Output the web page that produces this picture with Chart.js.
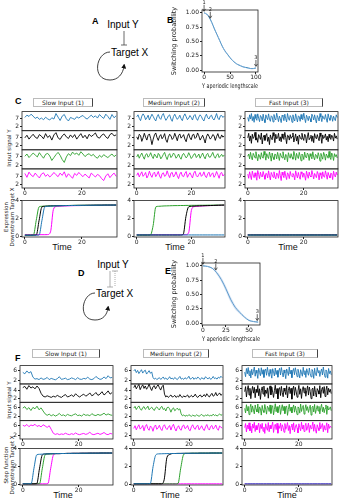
<!DOCTYPE html>
<html>
<head>
<meta charset="utf-8">
<script src="https://cdn.jsdelivr.net/npm/chart.js@4.4.1/dist/chart.umd.min.js"></script>
<style>
body{margin:0;background:#fff;}
#fig{position:relative;width:340px;height:500px;overflow:hidden;font-family:'Liberation Sans',Arial,sans-serif;color:#111;background:#fff;}
#fig canvas{position:absolute;}
.tbox{position:absolute;border:1px solid #bbb;border-right:1px solid #444;font-family:'DejaVu Sans';font-size:6px;text-align:center;line-height:7px;height:7px;color:#222;}
.time{position:absolute;font-size:9px;line-height:9px;transform:translateX(-50%);}
.ylab{position:absolute;font-family:'DejaVu Sans';font-size:5.5px;line-height:6px;transform:translate(-50%,-50%) rotate(-90deg);white-space:nowrap;text-align:center;color:#222;}
</style>
</head>
<body>
<div id="fig">
<svg style="position:absolute;left:0;top:0" width="340" height="500" font-family="Liberation Sans, Arial, sans-serif">
  <defs>
    <marker id="ah" markerWidth="5" markerHeight="5" refX="2.5" refY="2.5" orient="auto" markerUnits="userSpaceOnUse">
      <path d="M0,0 L5,2.5 L0,5 z" fill="#111"/>
    </marker>
  </defs>
  <text x="92" y="24" font-size="9" font-weight="bold">A</text>
  <text x="123" y="28" font-size="10" text-anchor="middle">Input Y</text>
  <line x1="124" y1="31" x2="124" y2="45" stroke="#444" stroke-width="0.8"/>
  <line x1="121" y1="45" x2="127" y2="45" stroke="#444" stroke-width="0.8"/>
  <text x="111" y="56" font-size="10">Target X</text>
  <path d="M110,52 C96,52 91,80 110,80 C118,80 123,74 124,66" fill="none" stroke="#111" stroke-width="0.8" marker-end="url(#ah)"/>

  <text x="167" y="23" font-size="9" font-weight="bold">B</text>
  <text x="15" y="104" font-size="9" font-weight="bold">C</text>

  <text x="78" y="276" font-size="9" font-weight="bold">D</text>
  <text x="113" y="268" font-size="10" text-anchor="middle">Input Y</text>
  <line x1="110" y1="271" x2="110" y2="287" stroke="#999" stroke-width="0.8"/>
  <line x1="107" y1="287" x2="113" y2="287" stroke="#999" stroke-width="0.8"/>
  <line x1="115" y1="271" x2="115" y2="287" stroke="#999" stroke-width="0.8" stroke-dasharray="1,1"/>
  <line x1="112" y1="271" x2="118" y2="271" stroke="#999" stroke-width="0.8"/>
  <text x="96" y="297" font-size="10">Target X</text>
  <path d="M95,293 C82,293 77,320 95,320 C103,320 107,315 108,308" fill="none" stroke="#111" stroke-width="0.8" marker-end="url(#ah)"/>

  <text x="165" y="274" font-size="9" font-weight="bold">E</text>
  <text x="15" y="361" font-size="9" font-weight="bold">F</text>
</svg>

<div class="tbox" style="left:33px;top:98px;width:58px;">Slow Input (1)</div>
<div class="tbox" style="left:143px;top:98px;width:60px;">Medium Input (2)</div>
<div class="tbox" style="left:255px;top:98px;width:66px;">Fast Input (3)</div>
<div class="tbox" style="left:32px;top:349px;width:66px;">Slow Input (1)</div>
<div class="tbox" style="left:143px;top:349px;width:64px;">Medium Input (2)</div>
<div class="tbox" style="left:252px;top:349px;width:64px;">Fast Input (3)</div>

<div class="ylab" style="left:9px;top:148px;">Input signal Y</div>
<div class="ylab" style="left:9px;top:217px;">Expression<br>Downstream Target X</div>
<div class="ylab" style="left:9px;top:400px;">Input signal Y</div>
<div class="ylab" style="left:9px;top:465px;">Step function<br>Downstream Target X</div>

<div class="time" style="left:62px;top:243px;">Time</div>
<div class="time" style="left:175px;top:243px;">Time</div>
<div class="time" style="left:288px;top:243px;">Time</div>
<div class="time" style="left:63px;top:491px;">Time</div>
<div class="time" style="left:170px;top:491px;">Time</div>
<div class="time" style="left:287px;top:491px;">Time</div>
</div>

<script>
// ---- datos ----
const T_END = 32;
const timeTicks = [0, 20];
const switchTicks = [0, 1, 2, 3, 4];
const probTicks = [0, 0.25, 0.5, 0.75, 1.0];
const tickFmt = ['0.00', '0.25', '0.50', '0.75', '1.00'];

const blue = '#1f77b4', black = '#000000', green = '#2ca02c', magenta = '#ff00ff';

// B: probabilidad de cambio
const bX = [0,5,10,15,20,25,30,35,40,45,50,55,60,65,70,75,80,85,90,95,100];
const bY = [1.0,0.98,0.92,0.83,0.72,0.62,0.52,0.42,0.34,0.28,0.22,0.17,0.13,0.1,0.08,0.06,0.05,0.04,0.03,0.03,0.04];
const bHi = [1.0,0.99,0.93,0.85,0.74,0.64,0.54,0.44,0.36,0.29,0.23,0.18,0.14,0.11,0.09,0.07,0.05,0.04,0.04,0.04,0.05];
const bLo = [0.99,0.97,0.91,0.81,0.7,0.6,0.5,0.4,0.32,0.27,0.21,0.16,0.12,0.09,0.07,0.05,0.04,0.03,0.02,0.02,0.03];
const bTicksX = [0, 50, 100];
const bNoteLabel = ['1', '2', '3'];
const bNoteX = [0, 12, 100];
const bNoteY = [1.0, 0.88, 0.04];

// E: probabilidad de cambio (escalón)
const eX = [0,5,10,15,20,25,30,35,40,45,50,55,60];
const eY = [1.0,0.99,0.96,0.88,0.76,0.6,0.42,0.28,0.19,0.11,0.05,0.03,0.02];
const eHi = [1.0,1.0,0.97,0.91,0.8,0.65,0.47,0.32,0.22,0.13,0.07,0.04,0.03];
const eLo = [0.99,0.98,0.95,0.85,0.72,0.55,0.37,0.24,0.16,0.09,0.04,0.02,0.01];
const eTicksX = [0, 25, 50];
const eNoteLabel = ['1', '2', '3'];
const eNoteX = [0, 14, 59];
const eNoteY = [1.0, 0.9, 0.02];

// C: señales de entrada
const c1Blue = [7.8,9.2,8.4,9.8,8.6,7.2,8.0,6.6,7.4,6.4,7.9,6.9,6.2,7.6,6.8,10.2,8.0,5.9,8.6,9.6,7.0,5.6,7.8,7.2,6.6,8.2,7.4,8.4,9.0,7.6,6.8,8.0,9.2,7.8,8.8,7.4,9.6,8.2,7.2,9.8,8.4,6.6,9.6,7.6,8.8];
const c1Black = [7.0,8.6,6.2,7.8,9.2,7.4,6.6,9.0,8.0,6.4,9.6,7.2,8.4,5.6,8.8,10.2,7.0,6.0,8.2,9.4,7.6,6.6,8.8,7.2,9.0,6.2,8.0,9.6,7.0,8.6,6.4,9.2,7.8,8.8,10.0,7.4,6.8,8.6,9.4,7.6,6.6,9.0,9.8,8.2,8.8];
const c1Green = [7.4,8.8,6.6,8.0,9.4,8.2,7.0,9.6,7.8,6.2,8.6,9.2,7.6,4.8,6.6,8.4,9.8,8.0,5.4,3.6,7.0,9.0,7.8,10.0,8.6,9.4,8.0,10.2,8.8,7.2,8.4,9.0,7.6,8.6,7.0,6.2,8.0,6.8,8.4,7.4,6.6,7.8,8.8,7.2,8.2];
const c1Magenta = [8.6,6.2,9.4,7.6,6.6,8.8,7.2,5.8,8.2,9.0,6.8,8.0,6.4,7.6,9.2,7.8,6.6,8.8,7.4,9.6,6.2,8.4,7.0,5.6,8.6,7.4,9.2,7.8,6.6,8.2,7.0,5.8,8.8,7.6,6.4,8.0,7.2,5.4,4.2,7.0,8.4,6.0,7.6,8.8,6.8];

const c2Blue = [8.2,9.4,7.2,5.8,8.6,10.0,8.8,6.4,7.6,9.2,6.2,8.0,9.8,8.4,6.8,5.6,8.2,9.6,7.4,6.6,9.0,10.2,7.8,6.0,7.2,8.8,9.4,6.8,5.4,8.4,9.8,8.0,6.6,7.6,9.2,7.0,5.8,8.6,10.0,8.2,6.4,7.4,9.0,7.8,6.2,8.8,9.6,7.2,6.0,8.0,9.4,8.4,6.6,5.6,8.2,9.8,7.6,6.8,8.6,9.2,7.0,6.2,8.0,10.2,7.4,6.4,8.8,9.0,7.8,8.6];
const c2Black = [7.6,6.0,9.2,8.4,4.8,7.0,9.8,7.4,5.6,8.6,9.4,6.6,2.8,6.2,8.8,10.0,7.2,5.4,8.0,9.0,6.4,7.6,9.6,5.8,4.2,7.4,9.2,8.2,6.0,7.0,9.8,7.6,5.2,8.4,9.4,6.8,7.8,9.0,6.2,4.6,8.0,9.6,7.0,5.8,8.8,9.2,6.6,7.4,10.0,8.2,5.6,7.0,8.6,6.4,3.8,7.6,9.4,8.0,6.2,7.2,9.0,8.4,5.4,7.8,9.6,7.0,6.6,8.8,7.4,8.2];
const c2Green = [7.0,8.6,6.2,8.0,9.4,7.2,5.6,8.4,9.0,6.8,7.8,9.6,7.4,6.0,8.8,7.6,6.4,9.2,8.2,5.8,7.0,8.6,9.8,7.2,5.4,8.0,9.0,6.6,7.6,9.4,8.4,6.2,7.2,8.8,6.8,5.6,8.2,9.2,7.8,6.4,7.4,9.6,8.0,6.0,7.0,8.6,9.0,6.6,7.6,8.8,6.2,7.8,9.4,7.2,5.8,8.4,9.2,7.0,6.8,8.2,9.8,7.4,6.2,8.0,9.0,6.6,7.6,8.6,7.2,8.2];
const c2Magenta = [7.4,9.0,6.4,8.2,9.6,6.8,7.8,9.2,5.8,7.2,10.0,7.6,6.2,8.6,9.4,6.6,8.0,9.8,7.0,5.6,8.4,9.0,6.8,7.4,10.2,7.8,6.0,8.8,9.2,6.4,7.6,9.6,7.2,5.4,8.2,9.4,7.0,6.6,8.6,9.8,6.2,7.8,9.0,7.4,5.8,8.8,10.0,7.2,6.4,8.0,9.2,6.8,7.6,9.6,7.0,6.0,8.4,9.4,6.6,8.2,9.0,6.2,7.4,9.8,7.8,5.6,8.6,9.2,7.0,8.0];

const c3Blue = [7.8,5.4,9.4,6.8,10.2,5.8,8.4,4.8,9.6,7.2,6.0,10.0,7.4,5.2,9.0,8.0,5.6,9.8,6.6,4.6,9.4,7.6,6.4,10.0,6.8,5.4,8.8,8.2,5.0,9.6,7.2,6.2,10.4,7.8,5.2,8.6,7.0,4.6,9.2,8.4,5.8,9.8,7.0,5.0,10.2,7.4,6.0,9.0,8.0,4.8,9.4,6.8,5.6,10.0,7.6,5.0,8.8,8.2,5.4,9.6,6.8,6.4,10.4,7.2,4.6,9.2,7.8,5.8,8.6,7.0,5.0,9.8,8.4,6.2,9.4,6.6,4.4,9.0,7.6,5.6,10.2,8.0,5.2,8.8,7.2,6.6,9.6,6.8,4.8,10.0,7.4,6.0,9.2,8.2,5.4,8.6,7.0,5.8,9.4,7.8];
const c3Black = [7.0,9.8,5.0,8.2,3.6,9.2,6.6,7.6,10.4,5.6,7.0,4.2,9.0,7.8,6.0,10.0,3.2,7.2,8.6,5.4,8.4,9.6,4.8,7.4,2.8,8.8,6.8,5.8,10.2,8.0,4.0,9.2,6.4,7.0,9.8,5.2,7.6,4.6,9.4,6.8,6.0,10.4,7.2,3.4,8.6,8.2,5.6,9.0,6.6,7.8,10.0,4.4,6.8,9.4,5.0,8.0,3.0,8.8,7.4,6.2,9.8,7.0,5.4,9.2,8.4,3.8,7.6,10.2,5.8,7.0,8.6,4.8,8.2,4.0,9.6,7.2,6.4,9.0,6.8,5.2,10.0,7.8,3.6,8.8,6.6,7.4,9.4,5.6,8.0,4.6,9.2,7.0,6.0,8.6,7.6,5.0,9.8,6.8,8.2,6.2];
const c3Green = [7.4,8.8,5.8,9.8,6.8,5.2,9.2,8.0,6.4,10.2,7.2,4.6,8.6,7.6,5.6,9.6,7.0,6.2,10.4,8.2,5.0,9.0,7.2,6.0,10.0,7.8,4.4,9.4,6.8,5.4,8.8,8.4,5.8,9.8,7.2,4.8,9.2,7.6,6.4,10.2,7.0,5.2,8.6,8.0,4.0,9.6,7.4,6.2,9.0,6.8,5.6,10.4,8.2,5.0,9.2,7.2,6.0,9.8,7.6,4.6,8.8,7.8,5.4,10.0,7.0,6.4,9.4,8.4,4.8,9.0,7.4,5.8,10.2,6.8,5.2,8.6,8.0,6.0,9.6,7.4,4.4,9.2,7.2,5.6,9.8,8.2,5.0,8.8,7.6,6.2,10.4,6.8,5.4,9.4,7.8,4.8,9.0,7.2,8.4,6.4];
const c3Magenta = [8.2,5.6,9.6,7.2,4.8,10.0,7.6,6.0,9.0,6.8,4.4,10.4,8.0,5.4,9.4,7.0,6.4,9.8,7.4,5.0,8.6,8.4,5.8,10.2,7.2,4.6,9.2,7.8,6.2,9.6,6.8,5.2,8.8,8.2,5.6,10.4,7.2,4.2,9.4,7.6,6.0,10.0,7.0,4.8,9.0,8.0,5.4,9.8,7.4,6.6,8.6,7.6,4.6,10.2,7.8,5.8,9.2,6.8,5.0,9.6,8.4,6.2,8.8,7.2,4.4,10.0,7.6,5.6,9.4,7.0,6.4,10.4,8.0,5.2,8.6,7.4,6.0,9.8,8.2,4.6,9.0,7.6,5.4,9.6,6.8,6.2,10.2,7.8,5.0,9.2,7.2,5.8,8.8,8.4,4.8,10.0,7.4,6.4,9.4,7.6];

// C: expresión del objetivo (t = 0..32)
const c1SwBlue = [0.12,0.12,0.12,0.12,0.12,0.14,1.8,3.3,3.36,3.38,3.4,3.41,3.42,3.43,3.44,3.44,3.45,3.45,3.46,3.46,3.47,3.47,3.47,3.48,3.48,3.48,3.49,3.49,3.49,3.5,3.5,3.5,3.5];
const c1SwBlack = [0.12,0.12,0.12,0.12,0.14,1.8,3.3,3.36,3.38,3.4,3.41,3.42,3.43,3.44,3.44,3.45,3.45,3.46,3.46,3.47,3.47,3.47,3.48,3.48,3.48,3.49,3.49,3.49,3.5,3.5,3.5,3.5,3.5];
const c1SwGreen = [0.12,0.12,0.12,0.14,1.8,3.3,3.36,3.38,3.4,3.41,3.42,3.43,3.44,3.44,3.45,3.45,3.46,3.46,3.47,3.47,3.47,3.48,3.48,3.48,3.49,3.49,3.49,3.49,3.5,3.5,3.5,3.5,3.5];
const c1SwMagenta = [0.18,0.18,0.18,0.18,0.18,0.18,0.18,0.18,0.19,0.5,3.0,3.34,3.37,3.39,3.4,3.41,3.42,3.43,3.44,3.44,3.45,3.45,3.46,3.46,3.47,3.47,3.47,3.48,3.48,3.48,3.49,3.49,3.5];

const c2SwBlue = [0.15,0.15,0.15,0.15,0.15,0.15,0.15,0.15,0.15,0.15,0.15,0.15,0.15,0.15,0.15,0.15,0.15,0.15,0.15,0.15,0.15,0.15,0.15,0.15,0.15,0.15,0.15,0.15,0.15,0.15,0.15,0.15,0.15];
const c2SwBlack = [0.14,0.14,0.14,0.14,0.14,0.14,0.14,0.14,0.14,0.14,0.14,0.14,0.14,0.14,0.14,0.14,0.14,0.2,2.2,3.3,3.36,3.38,3.4,3.41,3.42,3.43,3.44,3.45,3.46,3.47,3.48,3.49,3.5];
const c2SwGreen = [0.14,0.14,0.14,0.14,0.14,0.15,1.2,3.3,3.36,3.38,3.4,3.41,3.42,3.43,3.44,3.44,3.45,3.45,3.46,3.46,3.47,3.47,3.47,3.48,3.48,3.48,3.49,3.49,3.49,3.5,3.5,3.5,3.5];
const c2SwMagenta = [0.18,0.18,0.18,0.18,0.18,0.18,0.18,0.18,0.18,0.18,0.18,0.18,0.18,0.18,0.18,0.18,0.18,0.18,0.18,0.4,2.9,3.32,3.36,3.38,3.4,3.42,3.43,3.44,3.45,3.46,3.47,3.48,3.49];

const c3SwBlue = [0.14,0.14,0.14,0.14,0.14,0.14,0.14,0.14,0.14,0.14,0.14,0.14,0.14,0.14,0.14,0.14,0.14,0.14,0.14,0.14,0.14,0.14,0.14,0.14,0.14,0.14,0.14,0.14,0.14,0.14,0.14,0.14,0.14];
const c3SwBlack = [0.14,0.14,0.14,0.14,0.14,0.14,0.14,0.14,0.14,0.14,0.14,0.14,0.14,0.14,0.14,0.14,0.14,0.14,0.14,0.14,0.14,0.14,0.14,0.14,0.14,0.14,0.14,0.14,0.14,0.14,0.14,0.14,0.14];
const c3SwGreen = [0.15,0.15,0.15,0.15,0.15,0.15,0.15,0.15,0.15,0.15,0.15,0.15,0.15,0.15,0.15,0.15,0.15,0.15,0.15,0.15,0.15,0.15,0.15,0.15,0.15,0.15,0.15,0.15,0.15,0.15,0.15,0.15,0.15];
const c3SwMagenta = [0.18,0.18,0.18,0.18,0.18,0.18,0.18,0.18,0.18,0.18,0.18,0.18,0.18,0.18,0.18,0.18,0.18,0.18,0.18,0.18,0.18,0.18,0.18,0.18,0.18,0.18,0.18,0.18,0.18,0.18,0.18,0.18,0.18];

// F: señales de entrada con escalón
const f1Blue = [5.2,4.6,5.8,4.9,5.5,3.2,2.4,2.6,2.2,2.9,2.3,2.5,3.1,2.2,2.7,2.4,2.1,2.6,3.4,2.3,2.5,2.8,2.2,2.4,2.9,2.6,2.2,3.0,2.4,2.3,2.7,2.5,3.2,2.4,2.2,2.6,3.5,2.8,2.3,2.5,3.3,2.6,3.8,2.9,3.1];
const f1Black = [4.6,4.9,4.2,5.1,4.5,4.8,4.3,5.0,4.4,3.2,2.5,2.3,2.6,2.4,2.2,2.5,2.3,2.7,2.4,2.2,2.6,2.9,2.3,2.5,2.8,2.4,3.1,2.6,2.3,2.7,3.0,2.5,2.8,3.3,2.6,2.9,3.4,2.7,3.0,3.6,2.8,3.2,3.8,3.0,3.4];
const f1Green = [5.6,6.2,5.0,5.8,4.6,5.9,5.3,6.4,4.9,5.7,4.4,3.2,2.6,3.1,2.4,2.9,2.3,2.7,3.4,2.5,2.8,2.3,3.0,2.6,2.4,2.9,3.2,2.5,2.7,2.3,3.1,2.6,2.8,2.4,3.3,2.7,2.5,3.0,2.6,2.9,3.5,2.7,3.2,2.8,2.6];
const f1Magenta = [6.1,5.7,6.4,5.5,6.2,5.9,6.5,5.6,6.0,5.4,6.3,5.8,5.2,5.9,4.4,2.8,2.3,2.6,2.2,2.5,2.3,2.8,2.4,2.2,2.6,2.3,2.9,2.4,2.2,2.5,2.7,2.3,2.6,3.2,2.4,2.2,2.5,2.8,2.3,2.6,3.1,2.4,2.2,2.7,2.5];

const f2Blue = [5.8,6.4,5.1,6.0,4.7,5.5,6.3,4.9,5.7,6.1,4.5,5.2,5.9,4.8,5.4,3.1,2.4,2.8,2.2,2.6,3.0,2.3,2.7,3.3,2.4,2.9,2.2,2.6,3.4,2.5,2.8,2.3,3.1,2.6,2.2,2.9,3.5,2.4,2.7,2.3,3.0,2.5,2.8,3.6,2.4,2.6,3.2,2.3,2.9,2.5,3.3,2.7,2.2,3.0,2.6,2.4,3.4,2.8,2.5,3.1,2.3,2.7,3.5,2.6,2.9,2.4,3.2,2.8,3.6,3.0];
const f2Black = [4.6,5.2,4.3,4.9,5.4,4.1,4.8,5.3,4.4,5.0,4.2,4.7,5.5,4.5,3.9,4.8,5.1,4.3,4.9,5.3,4.6,4.0,4.8,5.2,3.0,2.3,2.6,2.2,2.5,2.8,2.3,2.4,2.7,2.2,2.5,2.3,2.9,2.4,2.2,2.6,2.3,2.5,2.8,2.2,2.4,2.7,2.3,2.5,3.0,2.4,2.2,2.6,2.8,2.3,2.5,2.9,2.4,3.1,2.6,2.3,2.8,3.2,2.5,2.7,3.4,2.6,2.9,3.3,2.7,3.0];
const f2Green = [5.6,6.3,5.0,5.9,6.5,5.3,4.7,5.8,6.2,5.1,5.6,6.4,4.9,5.5,6.0,5.2,4.6,5.7,6.1,5.4,4.8,5.9,6.3,5.0,5.5,4.4,5.8,6.0,5.3,3.9,5.2,5.7,4.5,5.0,5.6,4.8,5.3,3.2,2.4,2.8,2.2,2.6,2.3,2.9,2.5,2.2,2.7,2.4,2.3,2.8,2.5,2.2,2.6,3.0,2.4,2.3,2.7,2.5,2.9,2.3,2.6,2.4,3.1,2.5,2.8,2.3,2.7,3.2,2.6,2.9];
const f2Magenta = [4.8,5.9,4.2,5.4,6.3,4.5,5.1,6.0,3.8,5.6,6.4,4.7,4.0,5.8,5.2,3.6,5.5,6.2,4.4,5.0,6.1,4.6,3.9,5.7,6.3,4.9,4.3,5.3,6.0,4.1,5.6,6.5,4.8,3.7,5.2,5.9,4.5,4.0,5.8,6.2,4.7,5.1,6.0,4.3,3.8,5.5,6.3,4.9,4.4,5.7,6.1,4.2,5.0,5.9,4.6,3.9,5.4,6.4,4.8,4.1,5.6,6.0,4.5,5.2,6.2,4.7,4.0,5.8,5.3,4.9];

const f3Blue = [5.3,3.4,6.8,4.6,7.2,3.9,5.9,2.9,6.5,4.2,5.6,7.4,3.6,6.1,4.8,2.7,6.9,5.2,3.8,7.1,4.4,6.3,3.1,5.7,6.6,4.0,7.3,5.0,3.5,6.4,4.7,2.8,6.7,5.4,3.7,7.0,4.3,6.0,3.2,5.8,6.9,4.1,7.2,5.1,3.3,6.2,4.9,2.6,6.6,5.5,3.9,7.4,4.5,6.1,3.0,5.6,6.8,4.2,7.1,5.3,3.4,6.5,4.8,2.9,6.3,5.0,3.6,7.3,4.4,5.9,3.1,6.7,5.2,4.0,7.0,4.6,3.3,6.4,5.7,2.7,6.9,4.3,3.8,7.2,5.1,6.0,3.5,5.4,6.6,4.1,7.4,4.9,3.2,6.2,5.5,2.8,6.8,4.7,5.8,4.2];
const f3Black = [4.8,6.9,2.6,5.6,7.3,3.4,6.2,1.9,5.1,7.0,4.2,6.6,2.3,5.8,4.5,7.4,3.1,6.0,1.6,5.3,6.8,3.8,7.1,2.8,5.5,4.1,6.4,2.1,5.9,7.2,3.5,6.7,4.6,2.4,5.2,7.5,3.9,6.1,1.8,5.7,6.5,3.2,7.0,4.4,2.7,6.3,5.0,3.6,7.3,2.2,5.4,6.8,4.0,6.2,1.7,5.8,7.1,3.3,6.6,4.7,2.5,5.1,7.4,3.7,6.0,2.0,5.6,6.9,4.3,6.4,2.9,5.3,7.2,3.4,6.7,4.9,1.9,5.9,6.3,3.0,7.0,4.5,2.6,6.1,5.2,3.8,7.3,2.3,5.7,6.6,4.1,6.9,2.8,5.4,7.1,3.5,6.2,4.6,5.8,4.0];
const f3Green = [5.5,3.6,7.0,4.4,6.3,2.9,5.8,7.2,3.9,6.5,4.8,3.2,6.9,5.1,4.0,7.3,3.5,6.1,5.4,2.7,6.7,4.6,3.8,7.1,5.2,3.1,6.4,5.7,4.2,6.9,3.4,5.9,6.6,2.8,5.0,7.4,4.1,6.2,3.7,5.6,6.8,3.0,5.3,7.0,4.5,6.3,3.3,5.9,6.5,2.6,5.1,7.2,4.3,6.0,3.6,5.5,6.9,3.9,6.4,4.7,2.9,6.1,5.6,3.5,7.3,4.2,5.8,6.7,3.1,5.2,7.0,4.6,6.2,3.8,5.4,6.8,2.7,5.9,6.4,4.0,7.1,3.4,5.0,6.6,4.4,6.3,3.2,5.7,7.2,4.1,6.0,3.7,5.5,6.9,3.0,6.5,4.8,5.3,6.1,4.5];
const f3Magenta = [5.1,6.8,3.3,6.2,4.5,7.1,3.8,5.7,2.9,6.6,4.9,7.3,3.5,6.0,4.2,5.5,7.0,3.0,6.4,4.7,6.9,3.6,5.3,2.7,6.7,5.0,4.0,7.2,3.4,6.1,4.6,5.8,7.4,3.1,5.6,6.5,4.3,6.9,2.8,5.9,4.8,7.0,3.7,6.3,5.2,3.2,6.8,4.4,5.5,7.2,3.9,6.0,2.6,5.7,6.6,4.1,7.1,3.3,5.4,6.4,4.9,2.9,6.7,5.1,3.8,7.3,4.5,6.2,3.5,5.8,6.9,4.0,5.3,7.0,3.1,6.1,4.7,5.6,7.4,3.6,6.5,4.3,2.8,6.3,5.0,3.9,7.2,4.6,5.9,6.8,3.4,6.0,4.2,5.4,7.1,3.0,6.6,4.8,5.7,5.2];

// F: función escalón del objetivo (t = 0..32)
const f1SwBlue = [0.05,0.05,0.05,0.07,1.8,3.3,3.36,3.38,3.4,3.41,3.42,3.43,3.44,3.44,3.45,3.45,3.46,3.46,3.47,3.47,3.47,3.48,3.48,3.48,3.49,3.49,3.49,3.49,3.5,3.5,3.5,3.5,3.5];
const f1SwBlack = [0.05,0.05,0.05,0.05,0.05,0.07,1.8,3.3,3.4,3.41,3.42,3.43,3.44,3.44,3.45,3.45,3.46,3.46,3.47,3.47,3.47,3.48,3.48,3.48,3.49,3.49,3.49,3.49,3.5,3.5,3.5,3.5,3.5];
const f1SwGreen = [0.05,0.05,0.05,0.05,0.05,0.05,0.07,1.8,3.3,3.41,3.42,3.43,3.44,3.44,3.45,3.45,3.46,3.46,3.47,3.47,3.47,3.48,3.48,3.48,3.49,3.49,3.49,3.49,3.5,3.5,3.5,3.5,3.5];
const f1SwMagenta = [0.05,0.05,0.05,0.05,0.05,0.05,0.05,0.05,0.05,0.08,1.8,3.3,3.44,3.44,3.45,3.45,3.46,3.46,3.47,3.47,3.47,3.48,3.48,3.48,3.49,3.49,3.49,3.49,3.5,3.5,3.5,3.5,3.5];

const f2SwBlue = [0.05,0.05,0.05,0.05,0.05,0.05,0.1,2.0,3.3,3.41,3.42,3.43,3.44,3.44,3.45,3.45,3.46,3.46,3.47,3.47,3.47,3.48,3.48,3.48,3.49,3.49,3.49,3.49,3.5,3.5,3.5,3.5,3.5];
const f2SwBlack = [0.05,0.05,0.05,0.05,0.05,0.05,0.05,0.05,0.05,0.05,0.05,0.5,3.0,3.34,3.45,3.45,3.46,3.46,3.47,3.47,3.47,3.48,3.48,3.48,3.49,3.49,3.49,3.49,3.5,3.5,3.5,3.5,3.5];
const f2SwGreen = [0.05,0.05,0.05,0.05,0.05,0.05,0.05,0.05,0.05,0.05,0.05,0.05,0.05,0.05,0.05,0.05,0.08,1.8,3.3,3.47,3.47,3.48,3.48,3.48,3.49,3.49,3.49,3.49,3.5,3.5,3.5,3.5,3.5];
const f2SwMagenta = [0.05,0.05,0.05,0.05,0.05,0.05,0.05,0.05,0.05,0.05,0.05,0.05,0.05,0.05,0.05,0.05,0.05,0.05,0.05,0.05,0.05,0.05,0.05,0.05,0.05,0.05,0.05,0.05,0.05,0.05,0.05,0.05,0.05];

const f3SwBlue = [0.05,0.05,0.05,0.05,0.05,0.05,0.05,0.05,0.05,0.05,0.05,0.05,0.05,0.05,0.05,0.05,0.05,0.05,0.05,0.05,0.05,0.05,0.05,0.05,0.05,0.05,0.05,0.05,0.05,0.05,0.05,0.05,0.05];
const f3SwMagenta = [0.06,0.06,0.06,0.06,0.06,0.06,0.06,0.06,0.06,0.06,0.06,0.06,0.06,0.06,0.06,0.06,0.06,0.06,0.06,0.06,0.06,0.06,0.06,0.06,0.06,0.06,0.06,0.06,0.06,0.06,0.06,0.06,0.06];

// ---- utilidades ----
const fig = document.getElementById('fig');
const tickFont = { family: 'DejaVu Sans', size: 6 };
const ink = '#222';

function canvasAt(x, y, w, h){
    const c = document.createElement('canvas');
    c.width = w; c.height = h;
    c.style.left = x + 'px'; c.style.top = y + 'px';
    c.style.width = w + 'px'; c.style.height = h + 'px';
    fig.appendChild(c);
    return c;
}

function fixedTicks(list){
    return s => { s.ticks = list.map(v => ({ value: v })); };
}

// marco alrededor de cada banda (ejes apilados)
const boxPlugin = {
    id: 'boxPlugin',
    afterDraw(chart){
        const a = chart.chartArea, ctx = chart.ctx;
        ctx.save();
        ctx.strokeStyle = ink;
        ctx.lineWidth = 0.8;
        Object.values(chart.scales).forEach(s => {
            if(s.axis === 'y') ctx.strokeRect(a.left, s.top, a.right - a.left, s.bottom - s.top);
        });
        ctx.restore();
    }
};

// etiquetas 1, 2, 3 con flecha
const notePlugin = {
    id: 'notes',
    afterDatasetsDraw(chart, args, opts){
        if(!opts.labels) return;
        const ctx = chart.ctx, x = chart.scales.x, y = chart.scales.y;
        ctx.save();
        ctx.fillStyle = ink; ctx.strokeStyle = ink; ctx.lineWidth = 0.7;
        ctx.font = '5px DejaVu Sans';
        ctx.textAlign = 'center';
        opts.labels.forEach((lab, i) => {
            const px = x.getPixelForValue(opts.xs[i]);
            const py = y.getPixelForValue(opts.ys[i]);
            ctx.fillText(lab, px, py - 9);
            ctx.beginPath(); ctx.moveTo(px, py - 8); ctx.lineTo(px, py - 2); ctx.stroke();
            ctx.beginPath(); ctx.moveTo(px - 1.5, py - 4); ctx.lineTo(px, py - 1.5); ctx.lineTo(px + 1.5, py - 4); ctx.stroke();
        });
        ctx.restore();
    }
};

function timeAxis(XH){
    return {
        type: 'linear', min: -1, max: 32.3,
        afterBuildTicks: fixedTicks(timeTicks),
        afterFit: s => { s.height = XH; },
        grid: { display: true, drawOnChartArea: false, tickLength: 2, color: ink },
        border: { display: false },
        ticks: { font: tickFont, color: ink, padding: 0, maxRotation: 0 }
    };
}

const baseOptions = {
    responsive: false,
    animation: false,
    devicePixelRatio: 1,
    events: [],
    plugins: { legend: { display: false }, tooltip: { enabled: false } }
};

// Bandas de señal de entrada apiladas
function stripChart(l, t, w, h, series){
    const YW = 10, XH = 9;
    const cv = canvasAt(l - YW, t - 1, w + YW + 1, h + XH + 1);
    const scales = { x: timeAxis(XH) };
    // el último eje definido queda arriba: se definen de abajo hacia arriba
    for(let i = series.length - 1; i >= 0; i--){
        const s = series[i];
        scales['y' + i] = {
            type: 'linear', position: 'left', stack: 'strips', stackWeight: 1,
            min: s.min, max: s.max,
            afterBuildTicks: fixedTicks(s.ticks),
            afterFit: sc => { sc.width = YW; },
            grid: { display: true, drawOnChartArea: false, tickLength: 2, color: ink },
            border: { display: false },
            ticks: { font: tickFont, color: ink, padding: 1 }
        };
    }
    new Chart(cv, {
        type: 'line',
        data: {
            datasets: series.map((s, i) => ({
                data: s.values.map((v, j) => ({ x: j * T_END / (s.values.length - 1), y: v })),
                yAxisID: 'y' + i,
                borderColor: s.color,
                borderWidth: 0.9,
                pointRadius: 0,
                tension: 0
            }))
        },
        options: Object.assign({}, baseOptions, {
            layout: { padding: { top: 1, right: 1, left: 0, bottom: 0 } },
            scales: scales
        }),
        plugins: [boxPlugin]
    });
}

// Expresión del objetivo X
function switchChart(l, t, w, h, series){
    const YW = 10, XH = 9;
    const cv = canvasAt(l - YW, t - 1, w + YW + 1, h + XH + 1);
    new Chart(cv, {
        type: 'line',
        data: {
            datasets: series.map(s => ({
                data: s.values.map((v, j) => ({ x: j, y: v })),
                borderColor: s.color,
                borderWidth: 1,
                pointRadius: 0,
                cubicInterpolationMode: 'monotone'
            }))
        },
        options: Object.assign({}, baseOptions, {
            layout: { padding: { top: 1, right: 1, left: 0, bottom: 0 } },
            scales: {
                x: timeAxis(XH),
                y: {
                    type: 'linear', min: -0.08, max: 4.0,
                    afterBuildTicks: fixedTicks(switchTicks),
                    afterFit: sc => { sc.width = YW; },
                    grid: { display: true, drawOnChartArea: false, tickLength: 2, color: ink },
                    border: { display: false },
                    ticks: { font: tickFont, color: ink, padding: 1 }
                }
            }
        }),
        plugins: [boxPlugin]
    });
}

// Probabilidad de cambio
function probChart(cx, cy, plot, xs, ys, hi, lo, xMin, xMax, xTickList, notes){
    const YW = 32, XH = 18;
    const w = plot.r - cx + 4, h = plot.b - cy + XH;
    const cv = canvasAt(cx, cy, w, h);
    new Chart(cv, {
        type: 'line',
        data: {
            datasets: [{
                data: xs.map((x, i) => ({ x: x, y: lo[i] })),
                borderWidth: 0, pointRadius: 0, fill: false, tension: 0.3
            }, {
                data: xs.map((x, i) => ({ x: x, y: hi[i] })),
                borderWidth: 0, pointRadius: 0,
                backgroundColor: 'rgba(174,199,232,0.45)', fill: '-1', tension: 0.3
            }, {
                data: xs.map((x, i) => ({ x: x, y: ys[i] })),
                borderColor: blue, borderWidth: 1, pointRadius: 0, tension: 0.3
            }]
        },
        options: Object.assign({}, baseOptions, {
            layout: { padding: { top: plot.t - cy, right: 4, left: 0, bottom: 0 } },
            plugins: { legend: { display: false }, tooltip: { enabled: false }, notes: notes },
            scales: {
                x: {
                    type: 'linear', min: xMin, max: xMax,
                    afterBuildTicks: fixedTicks(xTickList),
                    afterFit: s => { s.height = XH; },
                    grid: { display: true, drawOnChartArea: false, tickLength: 2, color: ink },
                    border: { display: false },
                    ticks: { font: tickFont, color: ink, padding: 0, maxRotation: 0 },
                    title: { display: true, text: 'Y aperiodic lengthscale', font: { family: 'DejaVu Sans', size: 6.5 }, color: ink, padding: 0 }
                },
                y: {
                    type: 'linear', min: -0.03, max: 1.05,
                    afterBuildTicks: fixedTicks(probTicks),
                    afterFit: s => { s.width = YW; },
                    grid: { display: true, drawOnChartArea: false, tickLength: 2, color: ink },
                    border: { display: false },
                    ticks: { font: tickFont, color: ink, padding: 1, callback: (v, i) => tickFmt[i] },
                    title: { display: true, text: 'Switching probability', font: { family: 'DejaVu Sans', size: 6.5 }, color: ink, padding: 0 }
                }
            }
        }),
        plugins: [boxPlugin, notePlugin]
    });
}

// ---- paneles ----
probChart(170, 0, { t: 10, b: 72, r: 258 }, bX, bY, bHi, bLo, -4, 104, bTicksX,
    { labels: bNoteLabel, xs: bNoteX, ys: bNoteY });
probChart(170, 252, { t: 263, b: 325, r: 260 }, eX, eY, eHi, eLo, -1, 62, eTicksX,
    { labels: eNoteLabel, xs: eNoteX, ys: eNoteY });

const cRange = { min: -0.4, max: 11.4, ticks: [2, 7] };
const fRange = { min: 0.4, max: 8.0, ticks: [2, 6] };
const fBlackRange = { min: 1.0, max: 5.5, ticks: [2, 4] };

function strip(values, color, r){ return { values: values, color: color, min: r.min, max: r.max, ticks: r.ticks }; }
function sw(values, color){ return { values: values, color: color }; }

stripChart(22, 108, 95, 80, [strip(c1Blue, blue, cRange), strip(c1Black, black, cRange), strip(c1Green, green, cRange), strip(c1Magenta, magenta, cRange)]);
stripChart(134, 108, 91, 80, [strip(c2Blue, blue, cRange), strip(c2Black, black, cRange), strip(c2Green, green, cRange), strip(c2Magenta, magenta, cRange)]);
stripChart(245, 108, 93, 80, [strip(c3Blue, blue, cRange), strip(c3Black, black, cRange), strip(c3Green, green, cRange), strip(c3Magenta, magenta, cRange)]);

switchChart(22, 197, 95, 40, [sw(c1SwBlue, blue), sw(c1SwBlack, black), sw(c1SwGreen, green), sw(c1SwMagenta, magenta)]);
switchChart(134, 197, 91, 40, [sw(c2SwBlue, blue), sw(c2SwBlack, black), sw(c2SwGreen, green), sw(c2SwMagenta, magenta)]);
switchChart(245, 197, 93, 40, [sw(c3SwBlue, blue), sw(c3SwBlack, black), sw(c3SwGreen, green), sw(c3SwMagenta, magenta)]);

stripChart(20, 362, 93, 77, [strip(f1Blue, blue, fRange), strip(f1Black, black, fBlackRange), strip(f1Green, green, fRange), strip(f1Magenta, magenta, fRange)]);
stripChart(131, 362, 92, 77, [strip(f2Blue, blue, fRange), strip(f2Black, black, fBlackRange), strip(f2Green, green, fRange), strip(f2Magenta, magenta, fRange)]);
stripChart(242, 362, 90, 77, [strip(f3Blue, blue, fRange), strip(f3Black, black, fRange), strip(f3Green, green, fRange), strip(f3Magenta, magenta, fRange)]);

switchChart(20, 445, 93, 40, [sw(f1SwBlue, blue), sw(f1SwBlack, black), sw(f1SwGreen, green), sw(f1SwMagenta, magenta)]);
switchChart(131, 445, 92, 40, [sw(f2SwBlue, blue), sw(f2SwBlack, black), sw(f2SwGreen, green), sw(f2SwMagenta, magenta)]);
switchChart(242, 445, 90, 40, [sw(f3SwBlue, blue), sw(f3SwMagenta, magenta)]);
</script>
</body>
</html>
